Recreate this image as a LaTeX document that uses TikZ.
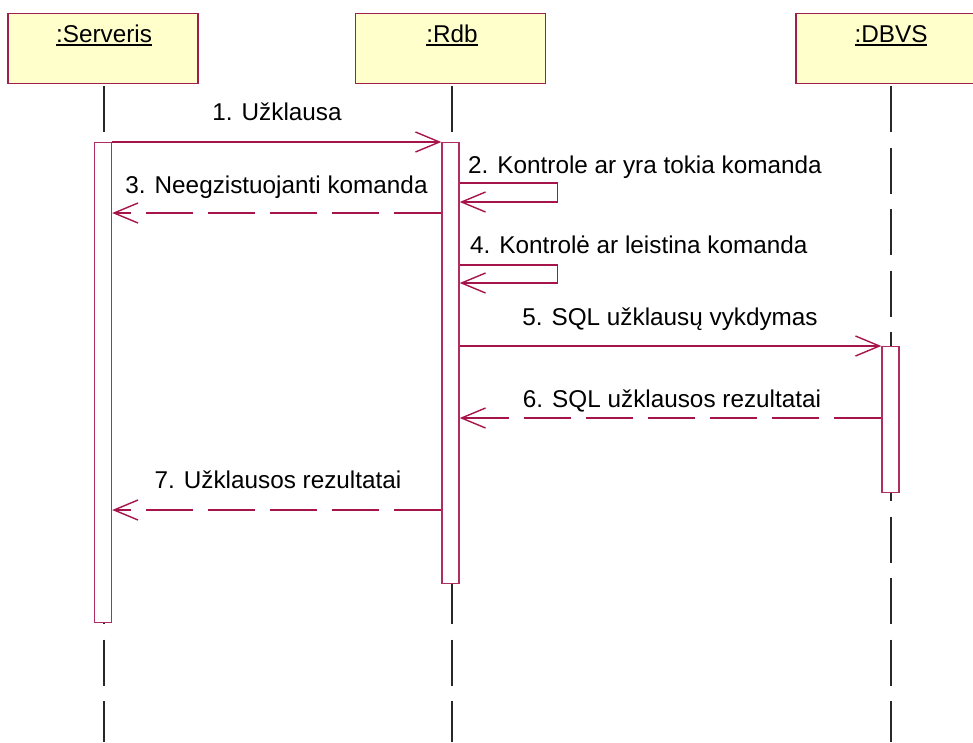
\documentclass[tikz,border=0pt]{standalone}
\usepackage{fontspec}
\setmainfont{Liberation Sans}
\usetikzlibrary{arrows.meta}
\definecolor{boxc}{RGB}{160,30,75}
\definecolor{boxfill}{RGB}{255,255,204}
\definecolor{msgc}{RGB}{165,20,75}
\definecolor{actc}{RGB}{175,45,95}
\definecolor{lifec}{RGB}{40,40,40}
% underlined object name
\newcommand{\objname}[1]{\setbox0\hbox{#1}\rlap{\raisebox{-4pt}{\rule{\wd0}{2pt}}}\box0}
\tikzset{
  objbox/.style={draw=boxc, fill=boxfill, line width=1.4pt, minimum width=190pt, minimum height=70pt, anchor=north, inner sep=0pt},
  actbox/.style={draw=actc, fill=white, line width=1.4pt, minimum width=17pt, inner sep=0pt, anchor=north},
  lifeline/.style={draw=lifec, line width=1.2pt, dash pattern=on 46pt off 15.5pt, shorten <=3pt},
  call/.style={draw=msgc, line width=1.3pt, -{Straight Barb[length=24pt,width=20pt,line width=1.4pt]}},
  reply/.style={call, dash pattern=on 47pt off 15pt},
  lbl/.style={font=\fontsize{24.3}{28}\selectfont, text=black, inner sep=0pt, anchor=base},
  lblw/.style={lbl, anchor=base west}
}
\begin{document}
\begin{tikzpicture}[x=1pt, y=-1pt]
\useasboundingbox (0,0) rectangle (973,742);
\clip (0,0) rectangle (973,742);

% object boxes
\node[objbox] (oS) at (103,13) {};
\node[objbox] (oR) at (450.5,13) {};
\node[objbox] (oD) at (891,13) {};
\node[lbl] (tS) at (104,42) {\objname{:Serveris}};
\node[lbl] (tR) at (452,42) {\objname{:Rdb}};
\node[lbl] (tD) at (891,42) {\objname{:DBVS}};

% lifelines
\coordinate (eS) at (104,742);
\coordinate (eR) at (452,742);
\coordinate (eD) at (891,742);
\draw[lifeline] (104,83) -- (eS);
\draw[lifeline] (452,83) -- (eR);
\draw[lifeline] (891,83) -- (eD);

% activation bars
\node[actbox, minimum height=480pt] (aS) at (103,142) {};
\node[actbox, minimum height=441pt] (aR) at (450.5,142) {};
\node[actbox, minimum height=146pt] (aD) at (890.5,346) {};

% messages
\draw[call] (aS.north east) -- (aR.north west);
\node[lbl] (m1) at (277,120) {1. Užklausa};

\draw[call] (aR.east |- 0,183) -- ++(98,0) -- ++(0,19) -- (aR.east |- 0,202);
\node[lblw] (m2) at (468,173) {2. Kontrole ar yra tokia komanda};

\draw[reply] (aR.west |- 0,213) -- (aS.east |- 0,213);
\node[lbl] (m3) at (276.5,193) {3. Neegzistuojanti komanda};

\draw[call] (aR.east |- 0,265) -- ++(98,0) -- ++(0,18) -- (aR.east |- 0,283);
\node[lblw] (m4) at (470,253) {4. Kontrolė ar leistina komanda};

\draw[call] (aR.east |- 0,346) -- (aD.north west);
\node[lbl] (m5) at (670,325) {5. SQL užklausų vykdymas};

\draw[reply] (aD.west |- 0,418) -- (aR.east |- 0,418);
\node[lbl] (m6) at (672,407) {6. SQL užklausos rezultatai};

\draw[reply] (aR.west |- 0,510) -- (aS.east |- 0,510);
\node[lbl] (m7) at (278,488) {7. Užklausos rezultatai};
\end{tikzpicture}
\end{document}
